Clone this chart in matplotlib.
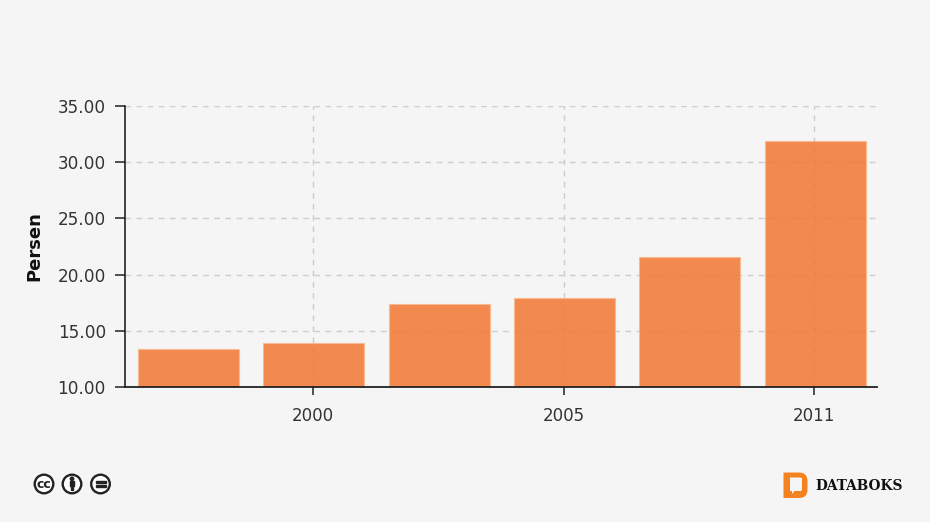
import matplotlib
matplotlib.use('Agg')
import matplotlib.pyplot as plt
from matplotlib.patches import Circle, PathPatch, Rectangle
from matplotlib.path import Path

plt.rcParams['font.family'] = ['DejaVu Sans']

# data
positions = [0, 1, 2, 3, 4, 5]
values = [13.4, 13.9, 17.35, 17.9, 21.6, 31.9]
tick_positions = [1, 3, 5]
tick_labels = ['2000', '2005', '2011']
y_ticks = [10, 15, 20, 25, 30, 35]

W, H = 930, 522
bg = '#f5f5f5'
text_col = '#333333'

fig = plt.figure(figsize=(W / 100, H / 100), dpi=100, facecolor=bg)
ax = fig.add_axes([125 / W, (H - 387) / H, 752 / W, 281 / H], facecolor=bg)

ax.bar([p + 0.006 for p in positions], values, width=0.806, bottom=0,
       facecolor=(0.95, 0.465, 0.2, 0.85), edgecolor=(0.98, 0.72, 0.56, 0.9),
       linewidth=0.8, zorder=3)

ax.set_xlim(-0.5, 5.5)
ax.set_ylim(10, 35)
ax.set_xticks(tick_positions)
ax.set_xticklabels(tick_labels)
ax.set_yticks(y_ticks)
ax.set_yticklabels(['%.2f' % v for v in y_ticks])

ax.grid(True, color='#cccccc', linewidth=1.0, linestyle=(0, (4, 4)), zorder=1)
ax.set_axisbelow(True)

for s in ['top', 'right']:
    ax.spines[s].set_visible(False)
ax.spines['left'].set_color('#111111')
ax.spines['left'].set_linewidth(1.1)
ax.spines['bottom'].set_color('#222222')
ax.spines['bottom'].set_linewidth(1.3)
ax.spines['bottom'].set_zorder(5)

ax.tick_params(axis='y', length=7.2, width=1.1, color='#222222', labelsize=12.2,
               labelcolor=text_col, pad=6.5)
ax.tick_params(axis='x', length=5.5, width=1.1, color='#222222', labelsize=12,
               labelcolor=text_col, pad=9)

fig.text(34 / W, 1 - 246 / H, 'Persen', rotation=90, fontsize=13, fontweight='bold',
         color='#111111', ha='center', va='center')

# overlay in pixel coordinates for the licence icons and the logo
ov = fig.add_axes([0, 0, 1, 1], facecolor='none')
ov.set_xlim(0, W)
ov.set_ylim(H, 0)
ov.axis('off')

for cx in [44, 72, 100.5]:
    ov.add_patch(Circle((cx, 484), 9.3, facecolor='white', edgecolor='#222222', linewidth=1.7))

# cc
ov.text(44, 484, 'cc', fontsize=9, fontweight='bold', color='#222222', ha='center', va='center')
# person
ov.add_patch(Circle((72, 478.8), 1.7, color='#222222'))
ov.add_patch(Rectangle((69.7, 481), 4.6, 5.2, color='#222222'))
ov.add_patch(Rectangle((70.6, 486), 2.8, 4.3, color='#222222'))
# equals
ov.add_patch(Rectangle((95.5, 480.8), 10, 2.2, color='#222222'))
ov.add_patch(Rectangle((95.5, 485), 10, 2.2, color='#222222'))

# logo D
d_verts = [(783.5, 472.5), (799, 472.5), (807.5, 472.5), (807.5, 481),
           (807.5, 490), (807.5, 498), (799, 498), (783.5, 498), (783.5, 472.5)]
d_codes = [Path.MOVETO, Path.LINETO, Path.CURVE3, Path.CURVE3,
           Path.LINETO, Path.CURVE3, Path.CURVE3, Path.LINETO, Path.CLOSEPOLY]
ov.add_patch(PathPatch(Path(d_verts, d_codes), facecolor='#f58220', edgecolor='none'))
b_verts = [(790, 477.5), (800, 477.5), (802, 478), (802, 481), (802, 488), (801.5, 491), (794.5, 491),
           (792, 494), (792, 491), (790, 491), (790, 477.5)]
ov.add_patch(PathPatch(Path(b_verts, closed=False), facecolor=bg, edgecolor='none'))

ov.text(815, 486, 'DATABOKS', family='DejaVu Serif', fontsize=9.9, fontweight='bold',
        color='#111111', ha='left', va='center')

fig.savefig('out.png', dpi=100, facecolor=bg)
